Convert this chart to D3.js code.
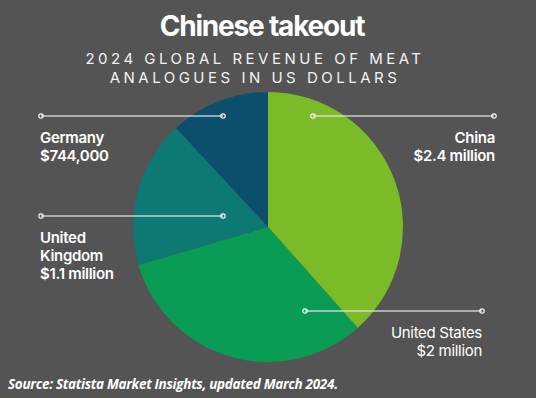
<!DOCTYPE html>
<html>
<head>
<meta charset="utf-8">
<script src="https://cdn.jsdelivr.net/npm/d3@7"></script>
<style>
  html, body { margin: 0; padding: 0; background: #545454; }
  svg { display: block; }
</style>
</head>
<body>
<svg id="chart" width="536" height="398"></svg>
<script>
// data
var countries = ["China", "United States", "United Kingdom", "Germany"];
var revenue = [2400000, 2000000, 1100000, 744000];
var valueLabels = ["$2.4 million", "$2 million", "$1.1 million", "$744,000"];
var nameLines = [["China"], ["United States"], ["United", "Kingdom"], ["Germany"]];
var colors = ["#7bbb27", "#0a9c54", "#0c7a72", "#0b4f6c"];

var width = 536, height = 398;
var cx = 268, cy = 227, radius = 135;

var svg = d3.select("#chart");

svg.append("rect")
    .attr("width", width)
    .attr("height", height)
    .attr("fill", "#545454");

// title
svg.append("text")
    .attr("x", 262)
    .attr("y", 36)
    .attr("text-anchor", "middle")
    .attr("fill", "#fff")
    .style("font-family", "Inter, sans-serif")
    .style("font-weight", 700)
    .style("font-size", "28px")
    .style("letter-spacing", "-1.2px")
    .text("Chinese takeout");

var subtitle = ["2024 GLOBAL REVENUE OF MEAT", "ANALOGUES IN US DOLLARS"];
svg.selectAll(".sub")
    .data(subtitle)
    .enter().append("text")
    .attr("class", "sub")
    .attr("x", 255)
    .attr("y", (d, i) => 64 + i * 19)
    .attr("text-anchor", "middle")
    .attr("fill", "#f2f2f2")
    .style("font-family", "Inter, sans-serif")
    .style("font-weight", 400)
    .style("font-size", "15px")
    .style("letter-spacing", "3.5px")
    .text(d => d);

// pie
var pie = d3.pie().sort(null).value(d => d);
var arc = d3.arc().innerRadius(0).outerRadius(radius);

var g = svg.append("g").attr("transform", "translate(" + cx + "," + cy + ")");

g.selectAll(".slice")
    .data(pie(revenue))
    .enter().append("path")
    .attr("class", "slice")
    .attr("d", arc)
    .attr("fill", (d, i) => colors[i]);

// callouts: line from x1 to x2 at y, label anchor
var callouts = [
    { x1: 313, x2: 494, y: 116, tx: 495, ty: 143, anchor: "end", weight: 600 },
    { x1: 305, x2: 482, y: 311, tx: 482, ty: 338, anchor: "end", weight: 400 },
    { x1: 41, x2: 223, y: 216, tx: 40, ty: 243, anchor: "start", weight: 600 },
    { x1: 41, x2: 223, y: 116, tx: 40, ty: 143, anchor: "start", weight: 600 }
];

var ann = svg.selectAll(".ann")
    .data(countries)
    .enter().append("g")
    .attr("class", "ann");

ann.append("line")
    .attr("x1", (d, i) => callouts[i].x1)
    .attr("x2", (d, i) => callouts[i].x2)
    .attr("y1", (d, i) => callouts[i].y)
    .attr("y2", (d, i) => callouts[i].y)
    .attr("stroke", "#e0e0e0")
    .attr("stroke-opacity", 0.85)
    .attr("stroke-width", 1.5);

ann.selectAll("circle")
    .data((d, i) => [[callouts[i].x1, callouts[i].y], [callouts[i].x2, callouts[i].y]])
    .enter().append("circle")
    .attr("cx", d => d[0])
    .attr("cy", d => d[1])
    .attr("r", 2.2)
    .attr("fill", "none")
    .attr("stroke", "#f4f4f4")
    .attr("stroke-width", 1.2);

ann.append("text")
    .attr("x", (d, i) => callouts[i].tx)
    .attr("y", (d, i) => callouts[i].ty)
    .attr("text-anchor", (d, i) => callouts[i].anchor)
    .attr("fill", "#fff")
    .style("font-family", "Inter, sans-serif")
    .style("font-size", "15px")
    .style("letter-spacing", "-0.3px")
    .style("font-weight", (d, i) => callouts[i].weight)
    .each(function (d, i) {
        var t = d3.select(this);
        var lines = nameLines[i].concat([valueLabels[i]]);
        lines.forEach(function (s, j) {
            t.append("tspan")
                .attr("x", callouts[i].tx)
                .attr("dy", j === 0 ? 0 : 18)
                .text(s);
        });
    });

// source
svg.append("text")
    .attr("x", 8)
    .attr("y", 389)
    .attr("fill", "#fff")
    .style("font-family", "'Open Sans', sans-serif")
    .style("font-weight", 700)
    .style("font-style", "italic")
    .style("font-size", "13.5px")
    .style("letter-spacing", "-0.3px")
    .text("Source: Statista Market Insights, updated March 2024.");
</script>
</body>
</html>
